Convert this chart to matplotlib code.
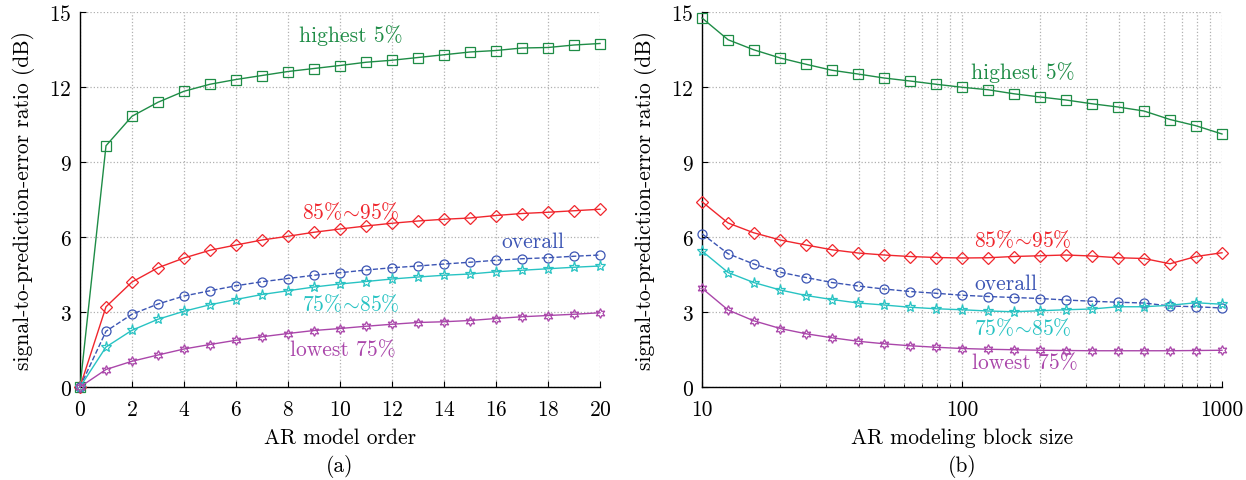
import numpy as np
import matplotlib
matplotlib.use("Agg")
import matplotlib.pyplot as plt

plt.rcParams['font.family'] = ['cmr10', 'DejaVu Serif']
plt.rcParams['mathtext.fontset'] = 'cm'
plt.rcParams['axes.formatter.use_mathtext'] = True

# ---- data: panel (a) ----
orders = list(range(0, 21))
a_high5 = [0, 9.65, 10.83, 11.39, 11.83, 12.11, 12.30, 12.46, 12.62, 12.74, 12.86,
           12.99, 13.07, 13.18, 13.29, 13.40, 13.46, 13.56, 13.58, 13.68, 13.74]
a_85_95 = [0, 3.21, 4.20, 4.77, 5.16, 5.47, 5.68, 5.88, 6.03, 6.19, 6.32,
           6.44, 6.55, 6.64, 6.71, 6.76, 6.86, 6.94, 6.99, 7.05, 7.11]
a_overall = [0, 2.23, 2.91, 3.32, 3.64, 3.85, 4.05, 4.21, 4.34, 4.47, 4.57,
             4.68, 4.77, 4.84, 4.92, 4.99, 5.07, 5.13, 5.17, 5.23, 5.28]
a_75_85 = [0, 1.60, 2.27, 2.71, 3.03, 3.29, 3.50, 3.70, 3.85, 4.00, 4.12,
           4.22, 4.32, 4.40, 4.47, 4.52, 4.61, 4.67, 4.73, 4.79, 4.84]
a_low75 = [0, 0.70, 1.03, 1.28, 1.52, 1.70, 1.87, 2.01, 2.14, 2.26, 2.34,
           2.43, 2.51, 2.58, 2.61, 2.66, 2.74, 2.81, 2.86, 2.91, 2.97]

# ---- data: panel (b) ----
blocks = [10, 12.6, 15.8, 20, 25.1, 31.6, 39.8, 50.1, 63.1, 79.4, 100,
          126, 158, 200, 251, 316, 398, 501, 631, 794, 1000]
b_high5 = [14.76, 13.89, 13.49, 13.16, 12.91, 12.67, 12.52, 12.36, 12.24, 12.11, 11.99,
           11.89, 11.73, 11.60, 11.48, 11.33, 11.20, 11.04, 10.70, 10.45, 10.12]
b_85_95 = [7.41, 6.56, 6.17, 5.88, 5.68, 5.49, 5.36, 5.28, 5.22, 5.18, 5.16,
           5.17, 5.22, 5.25, 5.28, 5.24, 5.17, 5.14, 4.93, 5.22, 5.37]
b_overall = [6.13, 5.33, 4.92, 4.59, 4.38, 4.18, 4.04, 3.92, 3.82, 3.75, 3.67,
             3.62, 3.58, 3.54, 3.48, 3.43, 3.39, 3.36, 3.24, 3.21, 3.16]
b_75_85 = [5.44, 4.58, 4.18, 3.88, 3.66, 3.50, 3.36, 3.28, 3.19, 3.13, 3.09,
           3.04, 3.01, 3.05, 3.09, 3.12, 3.21, 3.21, 3.27, 3.37, 3.31]
b_low75 = [3.95, 3.08, 2.65, 2.34, 2.13, 1.97, 1.83, 1.73, 1.65, 1.59, 1.54,
           1.51, 1.49, 1.47, 1.46, 1.45, 1.45, 1.45, 1.45, 1.46, 1.47]

labels = ['highest 5%', r'85%$\!\sim\!$95%', 'overall', r'75%$\!\sim\!$85%', 'lowest 75%']
colors = ['#1e8c46', '#f0262d', '#3c55b4', '#28c3c3', '#aa46aa']
markers = ['s', 'D', 'o', '*', (6, 1, 0)]
msizes = [6.5, 6, 6.5, 8, 7]
lstyles = ['-', '-', '--', '-', '-']

fig = plt.figure(figsize=(12.46, 4.81), dpi=100)
W, H = 1246, 481
axA = fig.add_axes([80 / W, 1 - 388 / H, 520 / W, 375 / H])
axB = fig.add_axes([702 / W, 1 - 388 / H, 520 / W, 375 / H])

fs = 15.5

def style(ax):
    for s in ['top', 'right']:
        ax.spines[s].set_visible(False)
    for s in ['left', 'bottom']:
        ax.spines[s].set_linewidth(1.0)
    ax.grid(True, which='major', linestyle=':', color='#b0b0b0', linewidth=0.9)
    ax.tick_params(direction='in', labelsize=fs, length=4, width=0.8)
    ax.tick_params(axis='x', pad=9)
    ax.tick_params(axis='y', pad=6)
    ax.set_ylim(0, 15)
    ax.set_yticks([0, 3, 6, 9, 12, 15])
    ax.set_ylabel('signal-to-prediction-error ratio (dB)', fontsize=fs, labelpad=10)

seriesA = [a_high5, a_85_95, a_overall, a_75_85, a_low75]
seriesB = [b_high5, b_85_95, b_overall, b_75_85, b_low75]

for ys, c, m, ms, ls in zip(seriesA, colors, markers, msizes, lstyles):
    axA.plot(orders, ys, color=c, marker=m, markersize=ms, markerfacecolor='none',
             markeredgewidth=0.9, linewidth=1.0, linestyle=ls, clip_on=False, zorder=3)
for ys, c, m, ms, ls in zip(seriesB, colors, markers, msizes, lstyles):
    axB.plot(blocks, ys, color=c, marker=m, markersize=ms, markerfacecolor='none',
             markeredgewidth=0.9, linewidth=1.0, linestyle=ls, clip_on=False, zorder=3)

style(axA)
axA.set_xlim(0, 20)
axA.set_xticks(range(0, 21, 2))
axA.set_xlabel('AR model order', fontsize=fs, labelpad=6)

style(axB)
axB.set_xscale('log')
axB.set_xlim(10, 1000)
axB.set_xticks([10, 100, 1000])
axB.set_xticklabels(['10', '100', '1000'])
axB.grid(True, which='minor', axis='x', linestyle=':', color='#b0b0b0', linewidth=0.9)
axB.tick_params(which='minor', direction='in', length=2.5, width=0.6)
axB.set_xlabel('AR modeling block size', fontsize=fs, labelpad=6)

# curve labels, panel (a)
posA = [(10.4, 14.1), (10.4, 7.03), (17.4, 5.85), (10.4, 3.33), (10.1, 1.5)]
for (x, y), t, c in zip(posA, labels, colors):
    axA.text(x, y, t, color=c, fontsize=fs, ha='center', va='center')

# curve labels, panel (b)
posB = [(10 ** 2.235, 12.6), (10 ** 2.235, 5.9), (10 ** 2.17, 4.16), (10 ** 2.235, 2.4), (10 ** 2.24, 1.0)]
for (x, y), t, c in zip(posB, labels, colors):
    axB.text(x, y, t, color=c, fontsize=fs, ha='center', va='center')

fig.text(340 / W, 1 - 467 / H, '(a)', fontsize=fs, ha='center', va='center')
fig.text(962 / W, 1 - 467 / H, '(b)', fontsize=fs, ha='center', va='center')

fig.savefig('out.png', dpi=100)
